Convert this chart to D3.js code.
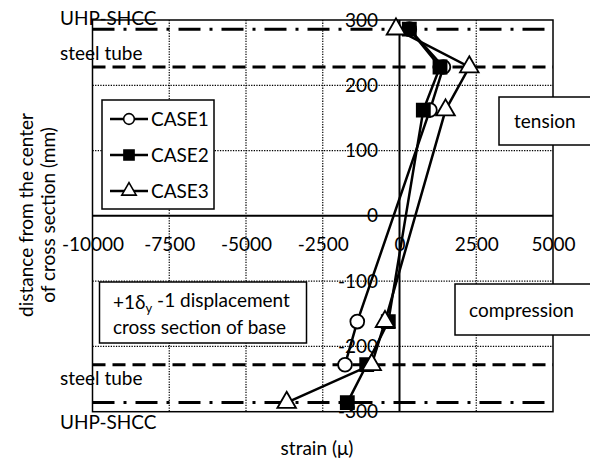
<!DOCTYPE html>
<html>
<head>
<meta charset="utf-8">
<script src="https://cdn.jsdelivr.net/npm/d3@7"></script>
<style>
  html, body { margin: 0; padding: 0; background: #fff; }
  svg { display: block; font-family: Lato, "Open Sans", sans-serif; }
</style>
</head>
<body>
<svg id="chart" width="590" height="464"></svg>
<script>
// Strain distribution over the cross section of the base (+1δy -1 displacement)
const xTicks = [-10000, -7500, -5000, -2500, 0, 2500, 5000];
const yTicks = [-300, -200, -100, 0, 100, 200, 300];

// measuring positions (mm from the centre of the cross section)
const case1Pos = [286, 228, 162, -162, -228];
const case1Strain = [320, 1430, 990, -1375, -1775];

const case2Pos = [286, 228, 162, -162, -228, -286];
const case2Strain = [320, 1320, 776, -365, -1068, -1700];

const case3Pos = [286, 228, 162, -162, -228, -286];
const case3Strain = [-114, 2274, 1500, -472, -906, -3675];

const caseNames = ["CASE1", "CASE2", "CASE3"];

// material boundaries (mm)
const tubeLevels = [228, -228];
const shccLevels = [286, -286];

const svg = d3.select("#chart");
const FS = 19;

const x = d3.scaleLinear().domain([-10000, 5000]).range([92.5, 553]);
const y = d3.scaleLinear().domain([-300, 300]).range([411.7, 20]);

// dotted grid
const grid = svg.append("g");
grid.selectAll("line.gx").data(xTicks.filter(d => d !== 0 && d !== -10000 && d !== 5000))
  .join("line").attr("x1", d => x(d)).attr("x2", d => x(d))
  .attr("y1", y(300)).attr("y2", y(-300))
  .attr("stroke", "#000").attr("stroke-width", 1.2).attr("stroke-dasharray", "1.3,1.3");
grid.selectAll("line.gy").data(yTicks.filter(d => Math.abs(d) !== 300 && d !== 0))
  .join("line").attr("y1", d => y(d)).attr("y2", d => y(d))
  .attr("x1", x(-10000)).attr("x2", x(5000))
  .attr("stroke", "#000").attr("stroke-width", 1.2).attr("stroke-dasharray", "1.3,1.3");

// plot frame
svg.append("rect")
  .attr("x", x(-10000)).attr("y", y(300))
  .attr("width", x(5000) - x(-10000)).attr("height", y(-300) - y(300))
  .attr("fill", "none").attr("stroke", "#000").attr("stroke-width", 1.5);

// boundary lines
svg.selectAll("line.tube").data(tubeLevels).join("line")
  .attr("x1", x(-10000)).attr("x2", x(5000))
  .attr("y1", d => y(d)).attr("y2", d => y(d))
  .attr("stroke", "#000").attr("stroke-width", 3).attr("stroke-dasharray", "13,7");
svg.selectAll("line.shcc").data(shccLevels).join("line")
  .attr("x1", x(-10000)).attr("x2", x(5000))
  .attr("y1", d => y(d)).attr("y2", d => y(d))
  .attr("stroke", "#000").attr("stroke-width", 3).attr("stroke-dasharray", "22,9,3,9");

// axes through the origin
svg.append("line").attr("x1", x(-10000)).attr("x2", x(5000))
  .attr("y1", y(0)).attr("y2", y(0)).attr("stroke", "#000").attr("stroke-width", 2);
svg.append("line").attr("x1", x(0)).attr("x2", x(0))
  .attr("y1", y(300)).attr("y2", y(-300)).attr("stroke", "#000").attr("stroke-width", 2);

// boundary labels
const sideLabels = [
  {t: "UHP-SHCC", v: 18}, {t: "steel tube", v: 53},
  {t: "steel tube", v: 378}, {t: "UHP-SHCC", v: 422}
];
svg.selectAll("text.side").data(sideLabels).join("text")
  .attr("x", 60).attr("y", d => d.v).attr("dy", "0.35em")
  .attr("font-size", FS).text(d => d.t);

// boxes
function box(x0, y0, w, h) {
  svg.append("rect").attr("x", x0).attr("y", y0).attr("width", w).attr("height", h)
    .attr("fill", "#fff").attr("stroke", "#000").attr("stroke-width", 1.5);
}
box(499, 97, 110, 48);
svg.append("text").attr("x", 514).attr("y", 121).attr("dy", "0.35em")
  .attr("font-size", FS).text("tension");
box(455, 284, 150, 51);
svg.append("text").attr("x", 469).attr("y", 310).attr("dy", "0.35em")
  .attr("font-size", FS).text("compression");

box(99.5, 282, 207, 61);
const t1 = svg.append("text").attr("x", 113).attr("y", 302).attr("dy", "0.35em").attr("font-size", FS);
t1.append("tspan").text("+1δ");
t1.append("tspan").attr("font-size", 13).attr("dy", "0.3em").text("y");
t1.append("tspan").attr("dy", "-0.3em").attr("font-size", FS).text(" -1 displacement");
svg.append("text").attr("x", 113).attr("y", 327).attr("dy", "0.35em")
  .attr("font-size", FS).text("cross section of base");

// tick labels
const xAxis = svg.append("g").attr("transform", `translate(0,${y(0)})`)
  .call(d3.axisBottom(x).tickValues(xTicks).tickSize(0).tickPadding(22).tickFormat(d => String(d)));
xAxis.select(".domain").remove();
xAxis.selectAll("text").attr("font-size", FS).attr("font-family", "Lato, sans-serif").attr("fill", "#000");

const yAxis = svg.append("g").attr("transform", `translate(${x(0)},0)`)
  .call(d3.axisLeft(y).tickValues(yTicks).tickSize(0).tickPadding(21.5).tickFormat(d => String(d)));
yAxis.select(".domain").remove();
yAxis.selectAll("text").attr("font-size", FS).attr("font-family", "Lato, sans-serif").attr("fill", "#000");

// axis titles
svg.append("text").attr("x", 317).attr("y", 448).attr("dy", "0.35em")
  .attr("text-anchor", "middle").attr("font-size", FS).text("strain (μ)");
const yt = svg.append("g").attr("transform", "translate(0,215) rotate(-90)");
yt.append("text").attr("x", 0).attr("y", 33).attr("text-anchor", "middle")
  .attr("font-size", FS).text("distance from the center");
yt.append("text").attr("x", 0).attr("y", 55).attr("text-anchor", "middle")
  .attr("font-size", FS).text("of cross section (mm)");

// series
const series = [
  {name: caseNames[0], pos: case1Pos, val: case1Strain, sym: d3.symbolCircle, fill: "#fff", size: 150},
  {name: caseNames[1], pos: case2Pos, val: case2Strain, sym: d3.symbolSquare, fill: "#000", size: 170},
  {name: caseNames[2], pos: case3Pos, val: case3Strain, sym: d3.symbolTriangle, fill: "#fff", size: 150}
];

const line = d3.line().x(d => x(d[0])).y(d => y(d[1]));
series.forEach(s => {
  const pts = s.val.map((v, i) => [v, s.pos[i]]);
  const g = svg.append("g");
  g.append("path").attr("d", line(pts)).attr("fill", "none")
    .attr("stroke", "#000").attr("stroke-width", 2.5);
  g.selectAll("path.m").data(pts).join("path")
    .attr("transform", d => `translate(${x(d[0])},${y(d[1])})`)
    .attr("d", d3.symbol(s.sym, s.size)())
    .attr("fill", s.fill).attr("stroke", "#000").attr("stroke-width", 1.8);
});

// legend
box(102, 100, 112, 109);
const legY = [119, 155, 191];
series.forEach((s, i) => {
  const g = svg.append("g").attr("transform", `translate(0,${legY[i]})`);
  g.append("line").attr("x1", 110).attr("x2", 148).attr("y1", 0).attr("y2", 0)
    .attr("stroke", "#000").attr("stroke-width", 2.5);
  g.append("path").attr("transform", "translate(129,0)")
    .attr("d", d3.symbol(s.sym, s.size * 0.6)())
    .attr("fill", s.fill).attr("stroke", "#000").attr("stroke-width", 1.6);
  g.append("text").attr("x", 151).attr("y", 0).attr("dy", "0.35em")
    .attr("font-size", FS).text(s.name);
});
</script>
</body>
</html>
